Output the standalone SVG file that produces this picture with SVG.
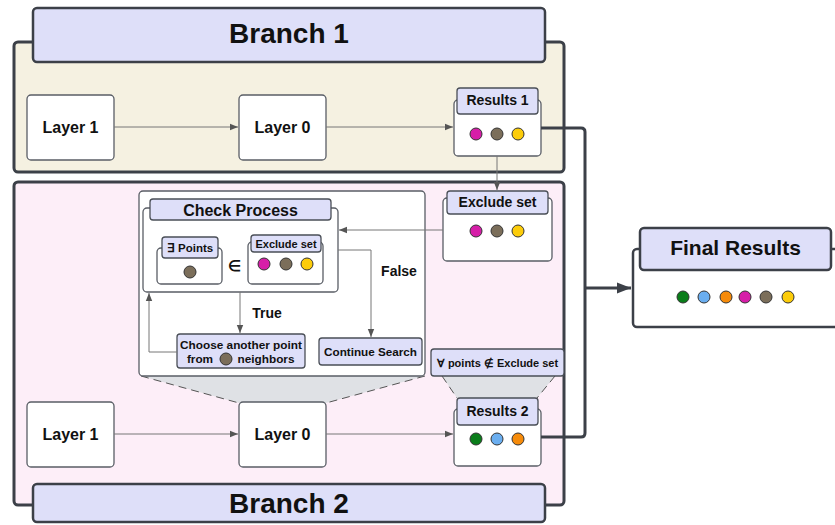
<svg xmlns="http://www.w3.org/2000/svg" width="835" height="525" viewBox="0 0 835 525">
<defs>
<style>
text{font-family:"Liberation Sans",Arial,sans-serif;font-weight:bold;fill:#111;text-anchor:middle;dominant-baseline:central}
.cont{stroke:#3c4048;stroke-width:3}
.hdr{fill:#dedff9;stroke:#3c4048;stroke-width:2.5}
.box{fill:#fff;stroke:#5a5e66;stroke-width:1.3}
.shdr{fill:#dedff9;stroke:#4a4f57;stroke-width:1.3}
.thin{fill:none;stroke:#777;stroke-width:1}
.thick{fill:none;stroke:#3c4048;stroke-width:3}
.dot{stroke:#333;stroke-width:1}
.m{fill:#d61ea8}.b{fill:#7b6e5a}.y{fill:#fccc0a}.g{fill:#0a7d1a}.l{fill:#6aaef0}.o{fill:#f68b0a}
.dash{fill:none;stroke:#555;stroke-width:1;stroke-dasharray:8 5}
</style>
<marker id="ah" viewBox="0 0 10 10" refX="10" refY="5" markerWidth="8" markerHeight="8" markerUnits="userSpaceOnUse" orient="auto"><path d="M0,1 L10,5 L0,9 z" fill="#555"/></marker>
<marker id="ahb" viewBox="0 0 10 10" refX="10" refY="5" markerWidth="14" markerHeight="14" markerUnits="userSpaceOnUse" orient="auto"><path d="M0,1 L10,5 L0,9 z" fill="#3c4048"/></marker>
</defs>

<g id="branch1">
<rect class="cont" x="14" y="42" width="550" height="130" rx="4" fill="#f5f1e1"/>
<rect class="hdr" x="33" y="8" width="512" height="54" rx="4"/>
<text x="289" y="33" font-size="28">Branch 1</text>
</g>

<g id="branch2">
<rect class="cont" x="14" y="182" width="550" height="323" rx="4" fill="#fdeef8"/>
</g>

<g id="trap1"><polygon points="141,376 425,376 326,403 239,403" fill="#dfe1e5"/>
<path class="dash" d="M141,376 L239,403 M425,376 L326,403"/></g>
<g id="trap2"><polygon points="442,376 555,376 537,398 457,398" fill="#dfe1e5"/>
<path class="dash" d="M442,376 L457,398 M555,376 L537,398"/></g>

<g id="branch2-header">
<rect class="hdr" x="33" y="484" width="512" height="38" rx="4"/>
<text x="289" y="503" font-size="28">Branch 2</text>
</g>

<g id="layer1-top"><rect class="box" x="27" y="95" width="87" height="65" rx="4"/><text x="70.5" y="127" font-size="16">Layer 1</text></g>
<g id="layer0-top"><rect class="box" x="239" y="95" width="87" height="65" rx="4"/><text x="282.5" y="127" font-size="16">Layer 0</text></g>
<g id="results1">
<rect class="box" x="454" y="100" width="87" height="56" rx="4"/>
<rect class="shdr" x="457" y="88" width="81" height="26" rx="3"/>
<text x="497.5" y="100" font-size="14">Results 1</text>
<circle class="dot m" cx="476" cy="134" r="6"/><circle class="dot b" cx="497" cy="134" r="6"/><circle class="dot y" cx="518" cy="134" r="6"/>
</g>

<g id="exclude-set">
<rect class="box" x="443" y="198" width="109" height="63" rx="4"/>
<rect class="shdr" x="447" y="191" width="101" height="23" rx="3"/>
<text x="497.5" y="202" font-size="14">Exclude set</text>
<circle class="dot m" cx="476" cy="231" r="6"/><circle class="dot b" cx="497" cy="231" r="6"/><circle class="dot y" cx="518" cy="231" r="6"/>
</g>

<g id="check-area"><rect class="box" x="139" y="191" width="286" height="185" rx="4"/></g>

<g id="check-process">
<rect class="box" x="143" y="208" width="195" height="84" rx="4"/>
<rect class="shdr" x="150" y="199" width="181" height="21" rx="3"/>
<text x="240.5" y="210" font-size="16">Check Process</text>
</g>

<g id="exists-points">
<rect class="box" x="157" y="248" width="65" height="36" rx="4"/>
<rect class="shdr" x="162" y="237" width="56" height="21" rx="3"/>
<text x="190" y="247.5" font-size="11.5">∃ Points</text>
<circle class="dot b" cx="190" cy="272" r="6"/>
</g>
<text x="234" y="265" font-size="15" font-weight="normal" fill="#333">∈</text>

<g id="exclude-inner">
<rect class="box" x="248" y="242" width="75" height="42" rx="4"/>
<rect class="shdr" x="251" y="235" width="70" height="17" rx="3"/>
<text x="286" y="243.5" font-size="11">Exclude set</text>
<circle class="dot m" cx="264" cy="264" r="6"/><circle class="dot b" cx="286" cy="264" r="6"/><circle class="dot y" cx="307" cy="264" r="6"/>
</g>

<g id="choose">
<rect class="shdr" x="177" y="334" width="128" height="34" rx="3"/>
<text x="241" y="345" font-size="11.8">Choose another point</text>
<text x="241" y="359" font-size="11.8"><tspan x="200">from</tspan><tspan x="266">neighbors</tspan></text>
<circle class="dot b" cx="226" cy="359" r="6"/>
</g>

<g id="continue"><rect class="shdr" x="319" y="338" width="103" height="27" rx="3"/><text x="370.5" y="351.5" font-size="11.7">Continue Search</text></g>

<g id="forall"><rect class="shdr" x="431" y="349" width="133" height="27" rx="3"/><text x="497.5" y="363" font-size="11">∀ points ∉  Exclude set</text></g>

<text x="267" y="313" font-size="14">True</text>
<text x="399" y="271" font-size="14">False</text>

<g id="layer1-bottom"><rect class="box" x="27" y="402" width="87" height="65" rx="4"/><text x="70.5" y="434" font-size="16">Layer 1</text></g>
<g id="layer0-bottom"><rect class="box" x="239" y="402" width="87" height="65" rx="4"/><text x="282.5" y="434" font-size="16">Layer 0</text></g>
<g id="results2">
<rect class="box" x="454" y="409" width="87" height="57" rx="4"/>
<rect class="shdr" x="457" y="398" width="81" height="27" rx="3"/>
<text x="497.5" y="411" font-size="14">Results 2</text>
<circle class="dot g" cx="476" cy="439" r="6"/><circle class="dot l" cx="497" cy="439" r="6"/><circle class="dot o" cx="518" cy="439" r="6"/>
</g>

<g id="final-results">
<rect x="633" y="249" width="220" height="78" rx="4" fill="#fff" stroke="#3c4048" stroke-width="2.5"/>
<rect class="hdr" x="640" y="228" width="191" height="42" rx="4"/>
<text x="735.5" y="247" font-size="21">Final Results</text>
<circle class="dot g" cx="683" cy="297" r="6"/><circle class="dot l" cx="704" cy="297" r="6"/><circle class="dot o" cx="726" cy="297" r="6"/><circle class="dot m" cx="745" cy="297" r="6"/><circle class="dot b" cx="766" cy="297" r="6"/><circle class="dot y" cx="788" cy="297" r="6"/>
</g>

<g id="connectors">
<path class="thin" d="M114,127 H238" marker-end="url(#ah)"/>
<path class="thin" d="M326,127 H453" marker-end="url(#ah)"/>
<path class="thin" d="M114,434 H238" marker-end="url(#ah)"/>
<path class="thin" d="M326,434 H453" marker-end="url(#ah)"/>
<path class="thin" d="M497,156 V190" marker-end="url(#ah)"/>
<path class="thin" d="M443,230 H339" marker-end="url(#ah)"/>
<path class="thin" d="M338,250 H371 V337" marker-end="url(#ah)"/>
<path class="thin" d="M240,292 V333" marker-end="url(#ah)"/>
<path class="thin" d="M177,352 H149 V293" marker-end="url(#ah)"/>
<path class="thick" d="M541,128 H581 Q585,128 585,132 V433 Q585,437 581,437 H541"/>
<path class="thick" d="M585,288 H631" marker-end="url(#ahb)"/>
</g>
</svg>
